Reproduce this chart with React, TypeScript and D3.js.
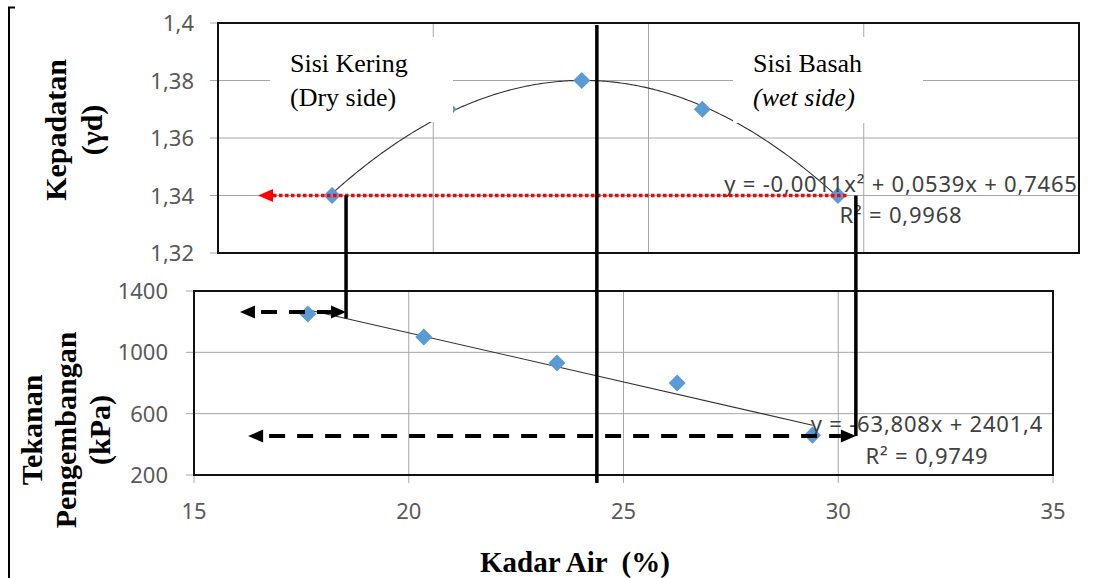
import { line, range, scaleLinear, symbol, symbolSquare } from "d3";

// water content (%) shared by both plots
const moisture = [17.65, 20.35, 23.45, 26.25, 29.4];
const dryDensity = [1.34, 1.37, 1.38, 1.37, 1.34];
const swellPressure = [1250, 1100, 930, 800, 460];

const xTicks = [15, 20, 25, 30, 35];
const densityTicks = [1.32, 1.34, 1.36, 1.38, 1.4];
const pressureTicks = [200, 600, 1000, 1400];

const densityEq = ["y = -0,0011x² + 0,0539x + 0,7465", "R² = 0,9968"];
const pressureEq = ["y = -63,808x + 2401,4", "R² = 0,9749"];

// hand drawn guides (water content / kPa / density units)
const guideDry = 18.54;
const guideOpt = 24.38;
const guideWet = 30.41;
const redArrow = { y: 1.34, from: 29.6, to: 15.93 };
const dashArrows = [
  { y: 1263, from: 16.07, to: guideDry },
  { y: 454, from: 16.26, to: guideWet },
];

const W = 1099;
const H = 578;
const sans = "'Noto Sans', 'Open Sans', sans-serif";
const serif = "'Liberation Serif', 'DejaVu Serif', serif";
const blue = "#5B9BD5";
const grid = "#a6a6a6";

const fmt = (d: number) => String(d).replace(".", ",");

// least squares polynomial fits
function quadFit(xs: number[], ys: number[]) {
  const s = [0, 0, 0, 0, 0];
  const t = [0, 0, 0];
  xs.forEach((x, i) => {
    for (let k = 0; k < 5; k++) s[k] += x ** k;
    for (let k = 0; k < 3; k++) t[k] += ys[i] * x ** k;
  });
  const m = [
    [s[0], s[1], s[2], t[0]],
    [s[1], s[2], s[3], t[1]],
    [s[2], s[3], s[4], t[2]],
  ];
  for (let i = 0; i < 3; i++) {
    for (let j = i + 1; j < 3; j++) {
      const f = m[j][i] / m[i][i];
      for (let k = i; k < 4; k++) m[j][k] -= f * m[i][k];
    }
  }
  const c = [0, 0, 0];
  for (let i = 2; i >= 0; i--) {
    let v = m[i][3];
    for (let k = i + 1; k < 3; k++) v -= m[i][k] * c[k];
    c[i] = v / m[i][i];
  }
  return (x: number) => c[0] + c[1] * x + c[2] * x * x;
}

function linFit(xs: number[], ys: number[]) {
  const mx = xs.reduce((a, b) => a + b, 0) / xs.length;
  const my = ys.reduce((a, b) => a + b, 0) / ys.length;
  let sxy = 0;
  let sxx = 0;
  xs.forEach((x, i) => {
    sxy += (x - mx) * (ys[i] - my);
    sxx += (x - mx) ** 2;
  });
  const b = sxy / sxx;
  return (x: number) => my + b * (x - mx);
}

const ArrowHead = ({ x, y, dir, fill }: { x: number; y: number; dir: number; fill: string }) => (
  <polygon points={`${x},${y} ${x + dir * 15},${y - 6.5} ${x + dir * 15},${y + 6.5}`} fill={fill} />
);

export default function App() {
  const xTop = scaleLinear().domain([15, 35]).range([218, 1079]);
  const yTop = scaleLinear().domain([1.32, 1.4]).range([253, 23]);
  const xBot = scaleLinear().domain([15, 35]).range([194, 1053]);
  const yBot = scaleLinear().domain([200, 1400]).range([475, 291]);

  const qf = quadFit(moisture, dryDensity);
  const lf = linFit(moisture, swellPressure);
  const xs = range(moisture[0], moisture[moisture.length - 1] + 0.001, 0.05);

  const curve = line<number>().x(d => xTop(d)).y(d => yTop(qf(d)))(xs) || "";
  const straight = line<number>().x(d => xBot(d)).y(d => yBot(lf(d)))([moisture[0], moisture[moisture.length - 1]]) || "";
  const diamond = symbol(symbolSquare, 145)() || "";

  const innerX = [20, 25, 30];

  return (
    <svg width={W} height={H} style={{ position: "absolute", left: 0, top: 0, background: "#fff" }}>
      {/* left bracket */}
      <path d="M15,7.5 H9 V578" fill="none" stroke="#000" strokeWidth={2} />

      {/* ---------- top plot: density ---------- */}
      {densityTicks.slice(1, -1).map(t => (
        <line key={t} x1={210} x2={1079} y1={yTop(t)} y2={yTop(t)} stroke={grid} />
      ))}
      {[1.32, 1.4].map(t => (
        <line key={t} x1={210} x2={218} y1={yTop(t)} y2={yTop(t)} stroke={grid} />
      ))}
      {innerX.map(t => (
        <line key={t} x1={xTop(t)} x2={xTop(t)} y1={23} y2={253} stroke={grid} />
      ))}
      {densityTicks.map(t => (
        <text key={t} x={194} y={yTop(t) + 8} textAnchor="end" fontFamily={sans} fontSize={22} fill="#595959">
          {fmt(t)}
        </text>
      ))}
      <path d={curve} fill="none" stroke="#333" strokeWidth={1.1} />
      {moisture.map((x, i) => (
        <path key={i} d={diamond} transform={`translate(${xTop(x)},${yTop(dryDensity[i])}) rotate(45)`} fill={blue} />
      ))}

      <rect x={270} y={37} width={183} height={85} fill="#fff" />
      <rect x={733} y={37} width={190} height={86} fill="#fff" />
      <text x={290} y={72} fontFamily={serif} fontSize={26}>Sisi Kering</text>
      <text x={290} y={106} fontFamily={serif} fontSize={26}>(Dry side)</text>
      <text x={753} y={72} fontFamily={serif} fontSize={26}>Sisi Basah</text>
      <text x={753} y={106} fontFamily={serif} fontSize={26} fontStyle="italic">(wet side)</text>

      <rect x={218} y={23} width={861} height={230} fill="none" stroke="#111" strokeWidth={2} />

      <text x={901} y={192} textAnchor="middle" fontFamily={sans} fontSize={22} letterSpacing={0.8} fill="#404040">
        {densityEq[0]}
      </text>
      <text x={901} y={223} textAnchor="middle" fontFamily={sans} fontSize={22} letterSpacing={0.8} fill="#404040">
        {densityEq[1]}
      </text>

      <text transform="translate(66,130) rotate(-90)" textAnchor="middle" fontFamily={serif} fontSize={30} fontWeight="bold">
        Kepadatan
      </text>
      <text transform="translate(102,130) rotate(-90)" textAnchor="middle" fontFamily={serif} fontSize={30} fontWeight="bold">
        (γd)
      </text>

      {/* ---------- bottom plot: swelling pressure ---------- */}
      {pressureTicks.map(t => (
        <line key={t} x1={186} x2={t === 200 || t === 1400 ? 194 : 1053} y1={yBot(t)} y2={yBot(t)} stroke={grid} />
      ))}
      {xTicks.map(t => (
        <line key={t} x1={xBot(t)} x2={xBot(t)} y1={innerX.includes(t) ? 291 : 475} y2={483} stroke={grid} />
      ))}
      {pressureTicks.map(t => (
        <text key={t} x={168} y={yBot(t) + 8} textAnchor="end" fontFamily={sans} fontSize={22} fill="#595959">
          {t}
        </text>
      ))}
      {xTicks.map(t => (
        <text key={t} x={xBot(t)} y={519} textAnchor="middle" fontFamily={sans} fontSize={22} fill="#595959">
          {t}
        </text>
      ))}
      <path d={straight} fill="none" stroke="#333" strokeWidth={1.1} />
      {moisture.map((x, i) => (
        <path key={i} d={diamond} transform={`translate(${xBot(x)},${yBot(swellPressure[i])}) rotate(45)`} fill={blue} />
      ))}
      <rect x={194} y={291} width={859} height={184} fill="none" stroke="#111" strokeWidth={2} />

      <text x={927} y={432} textAnchor="middle" fontFamily={sans} fontSize={22} letterSpacing={0.8} fill="#404040">
        {pressureEq[0]}
      </text>
      <text x={927} y={464} textAnchor="middle" fontFamily={sans} fontSize={22} letterSpacing={0.8} fill="#404040">
        {pressureEq[1]}
      </text>

      {["Tekanan", "Pengembangan", "(kPa)"].map((s, i) => (
        <text
          key={s}
          transform={`translate(${[42, 76, 110][i]},430) rotate(-90)`}
          textAnchor="middle"
          fontFamily={serif}
          fontSize={30}
          fontWeight="bold"
        >
          {s}
        </text>
      ))}
      <text x={480} y={572} fontFamily={serif} fontSize={29} fontWeight="bold" style={{ whiteSpace: "pre" }}>
        {"Kadar Air  (%)"}
      </text>

      {/* ---------- guides ---------- */}
      <line
        x1={xTop(redArrow.from)}
        x2={xTop(redArrow.to) + 14}
        y1={yTop(redArrow.y)}
        y2={yTop(redArrow.y)}
        stroke="#ff0000"
        strokeWidth={3.5}
        strokeDasharray="3.5 2.5"
      />
      <ArrowHead x={xTop(redArrow.to)} y={yTop(redArrow.y)} dir={1} fill="#ff0000" />

      {dashArrows.map((a, i) => (
        <g key={i}>
          <line
            x1={xBot(a.from) + 15}
            x2={xBot(a.to) - 15}
            y1={yBot(a.y)}
            y2={yBot(a.y)}
            stroke="#000"
            strokeWidth={4}
            strokeDasharray="16 12"
            strokeDashoffset={-6}
          />
          <ArrowHead x={xBot(a.from)} y={yBot(a.y)} dir={1} fill="#000" />
          <ArrowHead x={xBot(a.to)} y={yBot(a.y)} dir={-1} fill="#000" />
        </g>
      ))}

      <line x1={xBot(guideDry)} x2={xBot(guideDry)} y1={yTop(1.34)} y2={yBot(lf(guideDry))} stroke="#000" strokeWidth={3.5} />
      <line x1={xBot(guideOpt)} x2={xBot(guideOpt)} y1={yTop(1.4) + 2} y2={yBot(200) + 8} stroke="#000" strokeWidth={3.5} />
      <line x1={xBot(guideWet)} x2={xBot(guideWet)} y1={yTop(1.34)} y2={yBot(dashArrows[1].y)} stroke="#000" strokeWidth={3.5} />
    </svg>
  );
}
